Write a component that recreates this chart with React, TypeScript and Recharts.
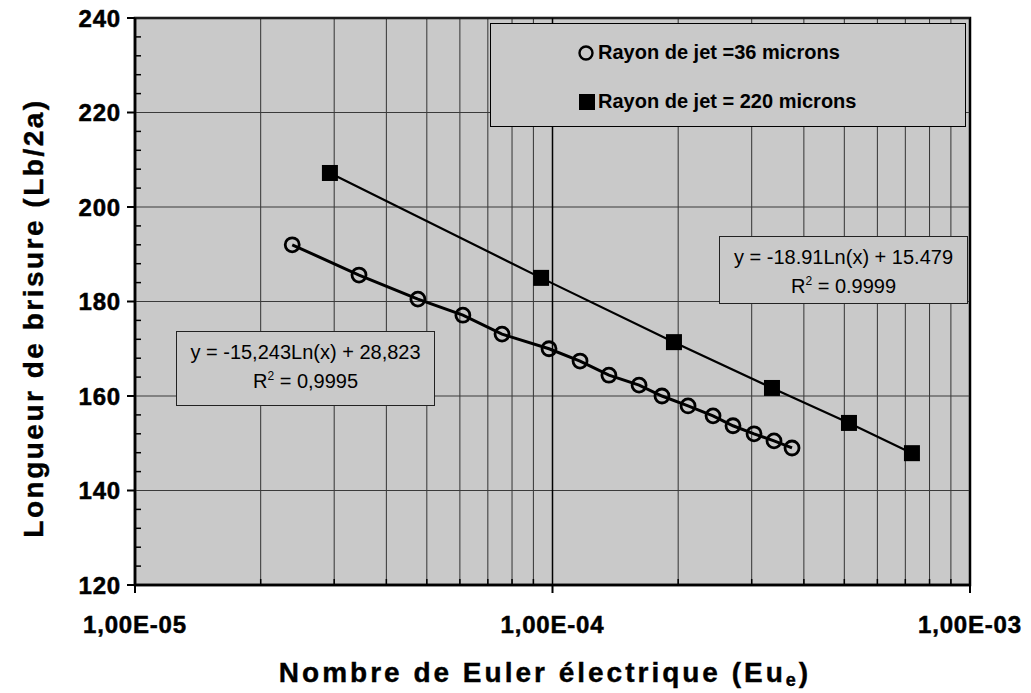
import { ScatterChart, Scatter, XAxis, YAxis, CartesianGrid, ReferenceArea, ReferenceLine } from 'recharts'

// Rayon de jet = 36 microns
const EU_36 = [2.38e-5, 3.44e-5, 4.76e-5, 6.1e-5, 7.57e-5, 9.81e-5, 1.164e-4, 1.365e-4, 1.612e-4, 1.829e-4, 2.112e-4, 2.424e-4, 2.706e-4, 3.039e-4, 3.393e-4, 3.747e-4]
const LB_36 = [192.0, 185.6, 180.5, 177.1, 173.1, 170.0, 167.4, 164.4, 162.3, 160.0, 157.9, 155.8, 153.7, 152.0, 150.5, 149.0]

// Rayon de jet = 220 microns
const EU_220 = [2.93e-5, 9.39e-5, 1.954e-4, 3.355e-4, 5.13e-4, 7.26e-4]
const LB_220 = [207.2, 185.0, 171.4, 161.7, 154.3, 147.9]

const X_DECADES = [1e-5, 1e-4, 1e-3]
const X_TICKS = [
  1e-5, 2e-5, 3e-5, 4e-5, 5e-5, 6e-5, 7e-5, 8e-5, 9e-5,
  1e-4, 2e-4, 3e-4, 4e-4, 5e-4, 6e-4, 7e-4, 8e-4, 9e-4, 1e-3,
]
const Y_MAJOR = [120, 140, 160, 180, 200, 220, 240]
const Y_TICKS = [
  120, 124, 128, 132, 136, 140, 144, 148, 152, 156, 160, 164, 168, 172, 176, 180,
  184, 188, 192, 196, 200, 204, 208, 212, 216, 220, 224, 228, 232, 236, 240,
]

const LEGEND_36 = 'Rayon de jet =36 microns'
const LEGEND_220 = 'Rayon de jet = 220 microns'
const EQ_36 = ['y = -15,243Ln(x) + 28,823', '0,9995']
const EQ_220 = ['y = -18.91Ln(x) + 15.479', '0.9999']

const FONT = '"Liberation Sans", Arial, Helvetica, sans-serif'
const PANEL = '#c9c9c9'

const series36 = EU_36.map((x, i) => ({ x, y: LB_36[i] }))
const series220 = EU_220.map((x, i) => ({ x, y: LB_220[i] }))

function formatSci(v: number): string {
  const [m, e] = v.toExponential(2).split('e')
  const n = Number(e)
  return `${m.replace('.', ',')}E${n < 0 ? '-' : '+'}${String(Math.abs(n)).padStart(2, '0')}`
}

function isDecade(v: number) {
  return X_DECADES.some((d) => Math.abs(d - v) / d < 1e-6)
}

function XTick(props: any) {
  const { x, y, payload } = props
  if (!isDecade(payload.value)) {
    return <line x1={x} x2={x} y1={y} y2={y - 6} stroke="#000" strokeWidth={1.5} />
  }
  return (
    <g>
      <line x1={x} x2={x} y1={y} y2={y + 8} stroke="#000" strokeWidth={2} />
      <text x={x} y={y + 48} textAnchor="middle" fontFamily={FONT} fontWeight="bold" fontSize={24}
        letterSpacing={0.8} stroke="#000" strokeWidth={0.5} fill="#000">
        {formatSci(payload.value)}
      </text>
    </g>
  )
}

function YTick(props: any) {
  const { x, y, payload } = props
  if (payload.value % 20 !== 0) {
    return <line x1={x} x2={x + 6} y1={y} y2={y} stroke="#000" strokeWidth={1.5} />
  }
  return (
    <g>
      <line x1={x - 8} x2={x} y1={y} y2={y} stroke="#000" strokeWidth={2} />
      <text x={x - 14} y={y} dy="0.36em" textAnchor="end" fontFamily={FONT} fontWeight="bold" fontSize={24}
        letterSpacing={0.8} stroke="#000" strokeWidth={0.5} fill="#000">
        {payload.value}
      </text>
    </g>
  )
}

function HollowCircle(props: any) {
  return <circle cx={props.cx} cy={props.cy} r={7} fill="none" stroke="#000" strokeWidth={2.8} />
}

function FilledSquare(props: any) {
  return <rect x={props.cx - 8} y={props.cy - 8} width={16} height={16} fill="#000" />
}

function EquationBox({ left, top, width, height, lines }: { left: number; top: number; width: number; height: number; lines: string[] }) {
  return (
    <div
      style={{
        position: 'absolute', left, top, width, height, boxSizing: 'border-box',
        border: '1.5px solid #222', background: PANEL, fontFamily: FONT, fontSize: 20,
        textAlign: 'center', lineHeight: '29px', paddingTop: 6, color: '#000',
      }}
    >
      <div>{lines[0]}</div>
      <div>R<sup style={{ fontSize: 12, verticalAlign: 'top', lineHeight: '18px' }}>2</sup> = {lines[1]}</div>
    </div>
  )
}

const titleStyle = {
  position: 'absolute' as const, whiteSpace: 'nowrap' as const, fontFamily: FONT, fontWeight: 'bold' as const,
  fontSize: 28, lineHeight: '32px', WebkitTextStroke: '0.4px #000', color: '#000',
}

export default function App() {
  return (
    <div style={{ position: 'absolute', left: 0, top: 0, width: 1031, height: 693, background: '#fff', overflow: 'hidden' }}>
      <ScatterChart width={1031} height={693} margin={{ top: 18, right: 61, bottom: 0, left: 0 }}>
        <CartesianGrid horizontal={false} fill={PANEL} fillOpacity={1} stroke="#333" strokeWidth={1} />
        {Y_MAJOR.map((v) => (
          <ReferenceLine key={`h${v}`} y={v} stroke="#3a3a3a" strokeWidth={1.2} />
        ))}
        {X_DECADES.map((v) => (
          <ReferenceLine key={`v${v}`} x={v} stroke="#000" strokeWidth={1.5} />
        ))}
        <XAxis
          dataKey="x" type="number" scale="log" domain={[1e-5, 1e-3]} allowDataOverflow
          ticks={X_TICKS} interval={0} height={108} tickSize={0} tickMargin={0} tickLine={false}
          axisLine={{ stroke: '#000', strokeWidth: 2.5 }} tick={<XTick />}
        />
        <YAxis
          dataKey="y" type="number" domain={[120, 240]} allowDataOverflow
          ticks={Y_TICKS} interval={0} width={135} tickSize={0} tickMargin={0} tickLine={false}
          axisLine={{ stroke: '#000', strokeWidth: 2.5 }} tick={<YTick />}
        />
        <ReferenceArea x1={1e-5} x2={1e-3} y1={120} y2={240} fill="none" stroke="#000" strokeWidth={2.5} ifOverflow="visible" />
        <Scatter
          name={LEGEND_220} data={series220} line={{ stroke: '#000', strokeWidth: 2.2 }} lineType="joint"
          shape={<FilledSquare />} isAnimationActive={false}
        />
        <Scatter
          name={LEGEND_36} data={series36} line={{ stroke: '#000', strokeWidth: 3 }} lineType="joint"
          shape={<HollowCircle />} isAnimationActive={false}
        />
      </ScatterChart>

      {/* legend */}
      <div
        style={{
          position: 'absolute', left: 490, top: 23, width: 476, height: 104, boxSizing: 'border-box',
          border: '1.5px solid #000', background: PANEL, fontFamily: FONT, fontWeight: 'bold', fontSize: 20, color: '#000',
        }}
      >
        <div style={{ position: 'absolute', left: 86, top: 17, display: 'flex', alignItems: 'center', whiteSpace: 'nowrap' }}>
          <svg width={18} height={18} style={{ marginRight: 3 }}>
            <circle cx={9} cy={9} r={6.5} fill="none" stroke="#000" strokeWidth={2.4} />
          </svg>
          {LEGEND_36}
        </div>
        <div style={{ position: 'absolute', left: 87, top: 66, display: 'flex', alignItems: 'center', whiteSpace: 'nowrap' }}>
          <svg width={18} height={18} style={{ marginRight: 2 }}>
            <rect x={1} y={1} width={16} height={16} fill="#000" />
          </svg>
          {LEGEND_220}
        </div>
      </div>

      <EquationBox left={719} top={236} width={249} height={68} lines={EQ_220} />
      <EquationBox left={176} top={331} width={259} height={75} lines={EQ_36} />

      {/* axis titles */}
      <div style={{ ...titleStyle, letterSpacing: 2.5, left: 34, top: 318, transform: 'translate(-50%, -50%) rotate(-90deg)' }}>
        Longueur de brisure (Lb/2a)
      </div>
      <div style={{ ...titleStyle, letterSpacing: 3, left: 545, top: 674, transform: 'translate(-50%, -50%)' }}>
        Nombre de Euler électrique (Eu<span style={{ fontSize: 18, position: 'relative', top: 4 }}>e</span>)
      </div>
    </div>
  )
}
